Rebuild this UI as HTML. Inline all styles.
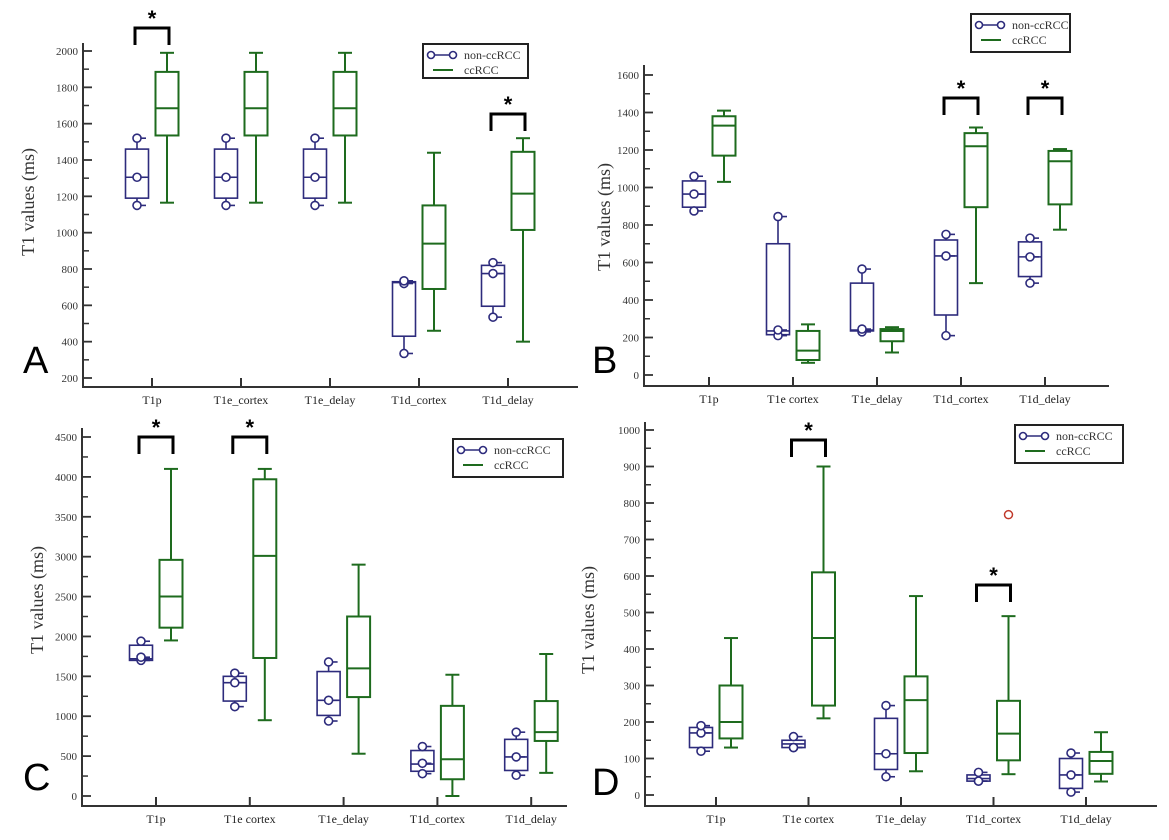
<!DOCTYPE html>
<html><head><meta charset="utf-8"><style>
html,body{margin:0;padding:0;background:#fff;}
svg{display:block;}
text{font-family:"Liberation Serif",serif;}
</style></head><body>
<svg id="fig" width="1169" height="840" viewBox="0 0 1169 840" xmlns="http://www.w3.org/2000/svg"></svg>
<script>
// Data: per category stats [min, q1, median, q3, max]
const categoriesAC = ["T1p","T1e_cortex","T1e_delay","T1d_cortex","T1d_delay"];
const categoriesBCD = ["T1p","T1e cortex","T1e_delay","T1d_cortex","T1d_delay"];

const aNonStats = [[1150,1190,1305,1460,1520],[1150,1190,1305,1460,1520],[1150,1190,1305,1460,1520],[335,430,725,730,735],[535,595,775,820,835]];
const aNonPoints = [[1150,1305,1520],[1150,1305,1520],[1150,1305,1520],[335,720,735],[535,775,835]];
const aCcStats = [[1165,1535,1685,1885,1990],[1165,1535,1685,1885,1990],[1165,1535,1685,1885,1990],[460,690,940,1150,1440],[400,1015,1215,1445,1520]];
const aSig = [0,4];
const aTicks = [200,400,600,800,1000,1200,1400,1600,1800,2000];

const bNonStats = [[875,895,965,1035,1060],[210,215,235,700,845],[230,235,240,490,565],[210,320,635,720,750],[490,525,630,710,730]];
const bNonPoints = [[875,965,1060],[210,240,845],[230,245,565],[210,635,750],[490,630,730]];
const bCcStats = [[1030,1170,1330,1380,1410],[65,80,130,235,270],[120,180,235,245,255],[490,895,1220,1290,1320],[775,910,1140,1195,1205]];
const bSig = [3,4];
const bTicks = [0,200,400,600,800,1000,1200,1400,1600];

const cNonStats = [[1700,1700,1720,1890,1940],[1120,1190,1420,1500,1540],[940,1010,1200,1560,1680],[280,310,400,570,620],[260,320,490,710,800]];
const cNonPoints = [[1700,1740,1940],[1120,1420,1540],[940,1200,1680],[280,410,620],[260,490,800]];
const cCcStats = [[1950,2110,2500,2960,4100],[950,1730,3010,3970,4100],[530,1240,1600,2250,2900],[0,210,460,1130,1520],[290,690,800,1190,1780]];
const cSig = [0,1];
const cTicks = [0,500,1000,1500,2000,2500,3000,3500,4000,4500];

const dNonStats = [[120,130,170,185,190],[130,130,140,150,160],[50,70,113,210,245],[35,38,45,55,60],[8,18,55,100,115]];
const dNonPoints = [[120,170,190],[130,130,160],[50,113,245],[38,38,62],[8,55,115]];
const dCcStats = [[130,155,200,300,430],[210,245,430,610,900],[65,115,260,325,545],[57,95,168,258,490],[37,58,93,118,172]];
const dOutliers = [[3,768]];
const dSig = [1,3];
const dTicks = [0,100,200,300,400,500,600,700,800,900,1000];

const NS="http://www.w3.org/2000/svg";
const svg=document.getElementById('fig');
function mk(tag,attrs,parent){const e=document.createElementNS(NS,tag);for(const k in attrs)e.setAttribute(k,attrs[k]);(parent||svg).appendChild(e);return e;}
const NAVY="#2d2b7c", GREEN="#1e6b1e", AX="#333";

function panel(p){
  const g=mk('g',{});
  
  
  const y=v=>p.y0px+(v-p.v0)*(p.y1px-p.y0px)/(p.v1-p.v0);
  const cx=i=>p.cat0+i*p.catStep;
  // axes
  const ax=mk('path',{d:`M${p.x0},${p.top} V${p.axisY} H${p.x1}`,fill:'none',stroke:AX,'stroke-width':2},g);
  
  
  const step=p.ticks[1]-p.ticks[0];
  p.ticks.forEach((t,i)=>{
    mk('line',{x1:p.x0,x2:p.x0+9,y1:y(t),y2:y(t),stroke:AX,'stroke-width':1.8},g);
    const tl=mk('text',{x:p.x0-5,y:y(t)+4,'text-anchor':'end','font-size':11,fill:'#333'},g);
    tl.textContent=t;
    
    
    const m=t+step/2;
    if(i<p.ticks.length-1||y(m)>p.top) if(y(m)>p.top+2) mk('line',{x1:p.x0,x2:p.x0+6,y1:y(m),y2:y(m),stroke:AX,'stroke-width':1.5},g);
  });
  if(y(p.ticks[0]-step/2)<p.axisY-2) mk('line',{x1:p.x0,x2:p.x0+6,y1:y(p.ticks[0]-step/2),y2:y(p.ticks[0]-step/2),stroke:AX,'stroke-width':1.5},g);
  p.cats.forEach((c,i)=>{
    mk('line',{x1:cx(i),x2:cx(i),y1:p.axisY,y2:p.axisY-9,stroke:AX,'stroke-width':2},g);
    const t=mk('text',{x:cx(i),y:p.axisY+17,'text-anchor':'middle','font-size':12,fill:'#222'},g);
    t.textContent=c;
    
    
  });
  // y title
  const yt=mk('text',{x:p.ytX,y:p.ytY,'text-anchor':'middle','font-size':18,fill:'#333',transform:`rotate(-90 ${p.ytX} ${p.ytY})`},g);
  yt.textContent='T1 values (ms)';
  
  
  // letter
  const L=mk('text',{x:p.lx,y:p.ly,'font-size':38,fill:'#000',style:'font-family:"Liberation Sans",sans-serif'},g);
  L.textContent=p.id;
  
  
  const W=23, off=15;
  function box(s,x,col,sw,capw,name){
    const bg=mk('g',{},g);
    
    
    mk('line',{x1:x,x2:x,y1:y(s[0]),y2:y(s[1]),stroke:col,'stroke-width':sw},bg);
    mk('line',{x1:x,x2:x,y1:y(s[3]),y2:y(s[4]),stroke:col,'stroke-width':sw},bg);
    if(capw){mk('line',{x1:x-capw/2,x2:x+capw/2,y1:y(s[0]),y2:y(s[0]),stroke:col,'stroke-width':sw},bg);
      mk('line',{x1:x-capw/2,x2:x+capw/2,y1:y(s[4]),y2:y(s[4]),stroke:col,'stroke-width':sw},bg);}
    mk('rect',{x:x-W/2,y:y(s[3]),width:W,height:Math.max(1,y(s[1])-y(s[3])),fill:'none',stroke:col,'stroke-width':sw},bg);
    mk('line',{x1:x-W/2,x2:x+W/2,y1:y(s[2]),y2:y(s[2]),stroke:col,'stroke-width':sw},bg);
    return bg;
  }
  p.non.forEach((s,i)=>{
    const bg=box(s,cx(i)-off,NAVY,1.6,0,'non-ccrcc-box-'+(i+1));
    p.pts[i].forEach(v=>{
      mk('line',{x1:cx(i)-off,x2:cx(i)-off+9,y1:y(v),y2:y(v),stroke:NAVY,'stroke-width':1.6},bg);
      mk('circle',{cx:cx(i)-off,cy:y(v),r:4,fill:'#fff',stroke:NAVY,'stroke-width':1.6},bg);
    });
  });
  p.cc.forEach((s,i)=>box(s,cx(i)+off,GREEN,2,14,'ccrcc-box-'+(i+1)));
  (p.outl||[]).forEach(o=>{
    const c=mk('circle',{cx:cx(o[0])+off,cy:y(o[1]),r:4,fill:'none',stroke:'#c0392b','stroke-width':1.5},g);
    
    
  });
  p.sig.forEach((i,k)=>{
    const by=p.brY[k], a=cx(i)-off-2, b=cx(i)+off+2;
    const br=mk('path',{d:`M${a},${by+17} V${by} H${b} V${by+17}`,fill:'none',stroke:'#000','stroke-width':3},g);
    
    
    const st=mk('text',{x:(a+b)/2,y:by-2,'text-anchor':'middle','font-size':22,'font-weight':'bold',fill:'#000',style:'font-family:"Liberation Sans",sans-serif'},g);
    st.textContent='*';
    
    
  });
  // legend
  const lg=mk('g',{},g);
  
  
  const [lx,ly,lw,lh]=p.leg;
  mk('rect',{x:lx,y:ly,width:lw,height:lh,fill:'#fff',stroke:'#222','stroke-width':2},lg);
  mk('line',{x1:lx+8,x2:lx+30,y1:ly+11,y2:ly+11,stroke:NAVY,'stroke-width':1.6},lg);
  mk('circle',{cx:lx+8,cy:ly+11,r:3.5,fill:'#fff',stroke:NAVY,'stroke-width':1.6},lg);
  mk('circle',{cx:lx+30,cy:ly+11,r:3.5,fill:'#fff',stroke:NAVY,'stroke-width':1.6},lg);
  mk('line',{x1:lx+10,x2:lx+30,y1:ly+26,y2:ly+26,stroke:GREEN,'stroke-width':2},lg);
  const t1=mk('text',{x:lx+41,y:ly+15,'font-size':12,fill:'#333'},lg);t1.textContent='non-ccRCC';
  
  
  const t2=mk('text',{x:lx+41,y:ly+30,'font-size':12,fill:'#333'},lg);t2.textContent='ccRCC';
  
  
}

panel({id:'A',x0:83,x1:578,top:43,axisY:387,v0:200,v1:2000,y0px:378,y1px:51,cat0:152,catStep:89,
  ticks:aTicks,cats:categoriesAC,non:aNonStats,pts:aNonPoints,cc:aCcStats,sig:aSig,brY:[28,114],
  leg:[423,44,105,34],ytX:34,ytY:202,lx:23,ly:373});
panel({id:'B',x0:644,x1:1109,top:65,axisY:386,v0:0,v1:1600,y0px:375,y1px:75,cat0:709,catStep:84,
  ticks:bTicks,cats:categoriesBCD,non:bNonStats,pts:bNonPoints,cc:bCcStats,sig:bSig,brY:[98,98],
  leg:[971,14,99,38],ytX:610,ytY:217,lx:592,ly:373});
panel({id:'C',x0:82,x1:567,top:428,axisY:806,v0:0,v1:4500,y0px:796,y1px:437,cat0:156,catStep:93.8,
  ticks:cTicks,cats:categoriesBCD,non:cNonStats,pts:cNonPoints,cc:cCcStats,sig:cSig,brY:[437,437],
  leg:[453,439,110,38],ytX:43,ytY:600,lx:23,ly:790});
panel({id:'D',x0:645,x1:1157,top:422,axisY:806,v0:0,v1:1000,y0px:795,y1px:430,cat0:716,catStep:92.5,
  ticks:dTicks,cats:categoriesBCD,non:dNonStats,pts:dNonPoints,cc:dCcStats,outl:dOutliers,sig:dSig,brY:[440,585],
  leg:[1015,425,108,38],ytX:594,ytY:620,lx:592,ly:795});
</script>
</body></html>
